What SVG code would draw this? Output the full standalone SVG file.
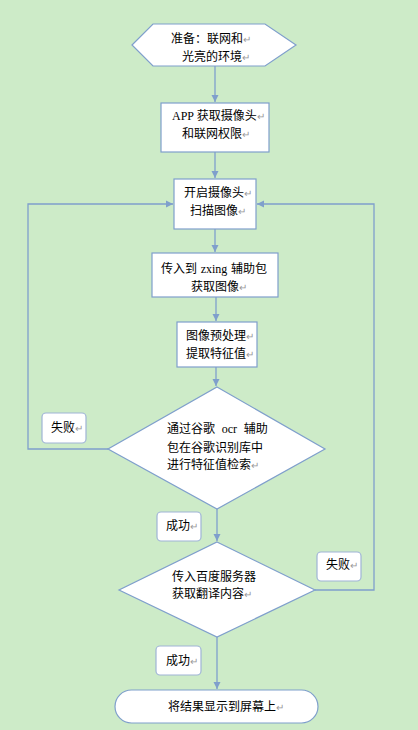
<svg xmlns="http://www.w3.org/2000/svg" width="418" height="730" viewBox="0 0 418 730">
<style>
.node{fill:#fff;stroke:#7f9fcc;stroke-width:1.2}
.lbl{fill:#fff;stroke:#9fb4d6;stroke-width:1.2}
.t{font-family:"Noto Sans CJK SC","Liberation Sans",sans-serif;font-size:12px;fill:#000}
.r{font-family:"Liberation Sans",sans-serif;font-size:10px;fill:#999}
.lat{font-family:"Liberation Serif",serif;font-size:12px}
.c{fill:none;stroke:#7f9fcc;stroke-width:1.3}
</style>
<defs>
<marker id="ah" markerWidth="8" markerHeight="8" refX="7" refY="4" orient="auto" markerUnits="userSpaceOnUse">
<path d="M0,0.5 L7,4 L0,7.5 Z" fill="#7f9fcc"/>
</marker>
</defs>
<rect width="418" height="730" fill="#cdebc8"/>
<g id="connectors">
<line class="c" x1="215" y1="66" x2="215" y2="102" marker-end="url(#ah)"/>
<line class="c" x1="215" y1="152" x2="215" y2="178" marker-end="url(#ah)"/>
<line class="c" x1="215" y1="229" x2="215" y2="252" marker-end="url(#ah)"/>
<line class="c" x1="216" y1="297" x2="216" y2="321" marker-end="url(#ah)"/>
<line class="c" x1="216" y1="367" x2="216" y2="386" marker-end="url(#ah)"/>
<polyline class="c" points="108,449 28,449 28,204 173,204" marker-end="url(#ah)"/>
<line class="c" x1="217" y1="509" x2="217" y2="541" marker-end="url(#ah)"/>
<polyline class="c" points="315,590 374,590 374,204 257,204" marker-end="url(#ah)"/>
<line class="c" x1="217" y1="637" x2="217" y2="689" marker-end="url(#ah)"/>
</g>
<g id="start">
<polygon class="node" points="132,45 153,24 265,24 296,45 265,66 153,66"/>
<text class="t" x="171" y="43">准备：联网和<tspan class="r">↵</tspan></text>
<text class="t" x="182" y="61">光亮的环境<tspan class="r">↵</tspan></text>
</g>
<g id="permission">
<rect class="node" x="161" y="103" width="108" height="49"/>
<text class="t" x="172" y="120"><tspan class="lat">APP</tspan> 获取摄像头<tspan class="r">↵</tspan></text>
<text class="t" x="182" y="138">和联网权限<tspan class="r">↵</tspan></text>
</g>
<g id="camera">
<rect class="node" x="174" y="179" width="82" height="50"/>
<text class="t" x="184" y="197">开启摄像头<tspan class="r">↵</tspan></text>
<text class="t" x="190" y="215">扫描图像<tspan class="r">↵</tspan></text>
</g>
<g id="zxing">
<rect class="node" x="152" y="253" width="126" height="44"/>
<text class="t" x="161" y="273" word-spacing="1">传入到 <tspan class="lat">zxing</tspan> 辅助包</text>
<text class="t" x="191" y="291">获取图像<tspan class="r">↵</tspan></text>
</g>
<g id="preprocess">
<rect class="node" x="177" y="322" width="80" height="45"/>
<text class="t" x="186" y="340">图像预处理<tspan class="r">↵</tspan></text>
<text class="t" x="186" y="358">提取特征值<tspan class="r">↵</tspan></text>
</g>
<g id="ocr">
<polygon class="node" points="217,387 325,449 217,509 108,449"/>
<text class="t" x="167" y="433" word-spacing="4">通过谷歌 <tspan class="lat">ocr</tspan> 辅助</text>
<text class="t" x="167" y="452">包在谷歌识别库中</text>
<text class="t" x="167" y="469">进行特征值检索<tspan class="r">↵</tspan></text>
</g>
<g id="fail1">
<rect class="lbl" x="42" y="413" width="44" height="30" rx="4"/>
<text class="t" x="51" y="432">失败<tspan class="r">↵</tspan></text>
</g>
<g id="success1">
<rect class="lbl" x="157" y="512" width="44" height="29" rx="4"/>
<text class="t" x="166" y="530">成功<tspan class="r">↵</tspan></text>
</g>
<g id="baidu">
<polygon class="node" points="217,542 315,590 217,637 119,590"/>
<text class="t" x="172" y="581">传入百度服务器</text>
<text class="t" x="172" y="598">获取翻译内容<tspan class="r">↵</tspan></text>
</g>
<g id="fail2">
<rect class="lbl" x="317" y="552" width="44" height="29" rx="4"/>
<text class="t" x="326" y="569">失败<tspan class="r">↵</tspan></text>
</g>
<g id="success2">
<rect class="lbl" x="156" y="646" width="45" height="29" rx="4"/>
<text class="t" x="166" y="665">成功<tspan class="r">↵</tspan></text>
</g>
<g id="end">
<rect class="node" x="115" y="690" width="203" height="33" rx="16.5"/>
<text class="t" x="168" y="711">将结果显示到屏幕上<tspan class="r">↵</tspan></text>
</g>
</svg>
